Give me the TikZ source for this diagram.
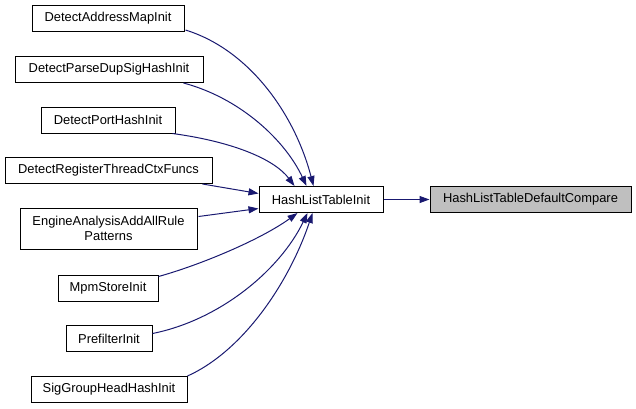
\documentclass[tikz,border=0pt]{standalone}
\usepackage{fontspec}
\setmainfont{Liberation Sans}
\usetikzlibrary{arrows.meta,calc}
\definecolor{edgeblue}{HTML}{191970}
\definecolor{focusgray}{HTML}{BFBFBF}
\tikzset{
  fnbox/.style={draw=black, line width=1pt, fill=white, inner sep=0pt, minimum height=26pt,
    font=\fontsize{12.9}{15}\selectfont, align=center},
  focusbox/.style={fnbox, fill=focusgray},
  edge/.style={draw=edgeblue, line width=1pt, -{Triangle[length=10pt,width=7pt]}}
}
\begin{document}
\begin{tikzpicture}[x=1pt,y=-1pt]
\useasboundingbox (0,0) rectangle (636,408);
\node[fnbox, minimum width=152pt] (n1) at (108,18.5) {DetectAddressMapInit};
\node[fnbox, minimum width=188pt] (n2) at (109,69.5) {DetectParseDupSigHashInit};
\node[fnbox, minimum width=134pt] (n3) at (108,120) {DetectPortHashInit};
\node[fnbox, minimum width=207pt] (n4) at (108.5,170.5) {DetectRegisterThreadCtxFuncs};
\node[fnbox, minimum width=177pt, minimum height=41pt] (n5) at (108.5,228.5) {EngineAnalysisAddAllRule\\Patterns};
\node[fnbox, minimum width=100pt] (n6) at (108,288) {MpmStoreInit};
\node[fnbox, minimum width=86pt] (n7) at (109,338.5) {PrefilterInit};
\node[fnbox, minimum width=156pt] (n8) at (109,389.5) {SigGroupHeadHashInit};
\node[fnbox, minimum width=124pt] (h) at (321,199.5) {HashListTableInit};
\node[focusbox, minimum width=201pt] (c) at (530.5,199.5) {HashListTableDefaultCompare};

\draw[edge] ($(n1.south east)+(1,-2)$) .. controls (250,50) and (295,115) .. ($(h.north west)+(55,0)$);
\draw[edge] ($(n2.south east)+(-20,0)$) .. controls (240,98) and (285,140) .. ($(h.north west)+(48,0)$);
\draw[edge] ($(n3.south east)+(-3,0)$) .. controls (235,142) and (275,160) .. ($(h.north west)+(36,0)$);
\draw[edge] ($(n4.south east)+(-10,0)$) -- ($(h.west)+(0,-6)$);
\draw[edge] ($(n5.east)+(1,-12)$) -- ($(h.west)+(0,9)$);
\draw[edge] ($(n6.north east)+(0,2)$) .. controls (200,265) and (260,240) .. ($(h.south west)+(39,0)$);
\draw[edge] ($(n7.east)+(0,-5)$) .. controls (220,320) and (280,270) .. ($(h.south west)+(49,0)$);
\draw[edge] ($(n8.north east)+(0,0)$) .. controls (245,350) and (290,280) .. ($(h.south west)+(54,0)$);
\draw[edge] (h.east) -- (c.west);
\end{tikzpicture}
\end{document}
